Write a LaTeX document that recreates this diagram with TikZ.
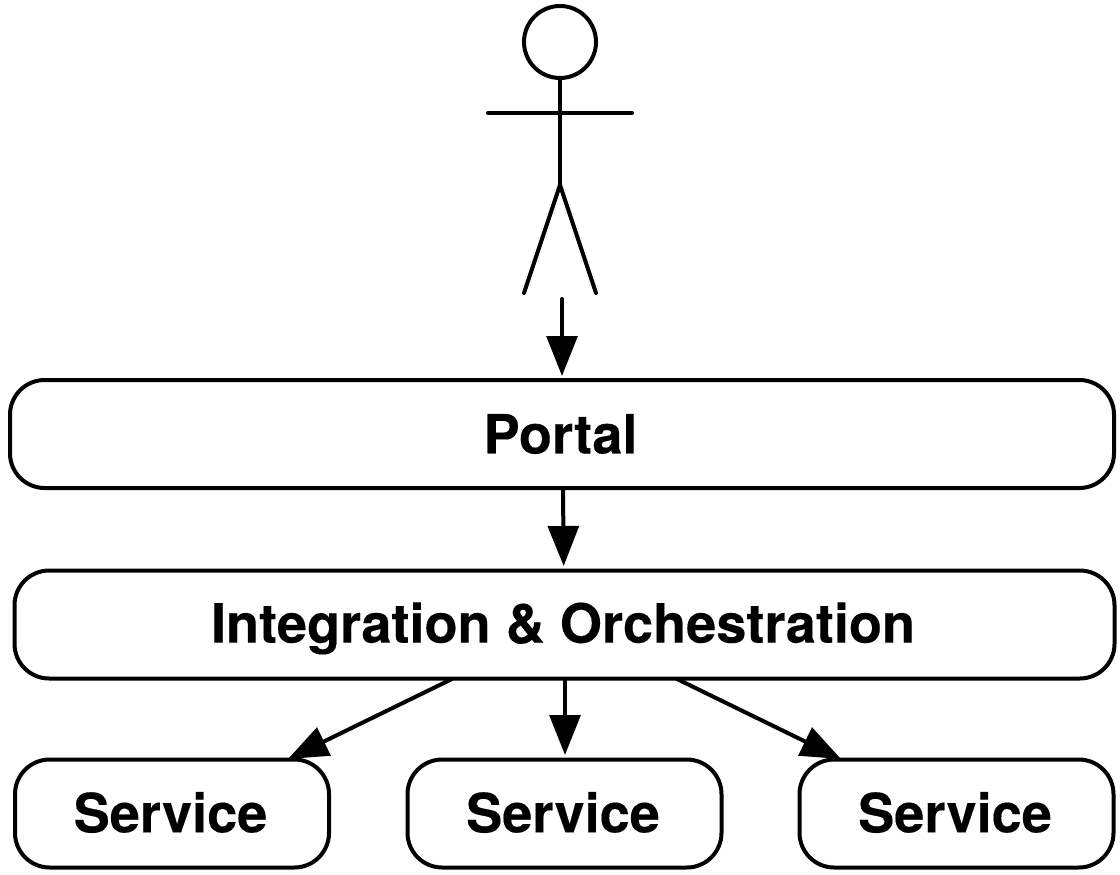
\documentclass[tikz,border=0pt]{standalone}
\usepackage{fontspec}
\setmainfont{TeX Gyre Heros}[BoldFeatures={FakeBold=0.25}]
\usetikzlibrary{arrows.meta,calc}
\newcommand\boxlabel[1]{#1\hspace*{2.2pt}}
\tikzset{
  px/.style={x=0.75pt,y=-0.75pt},
  box/.style={draw=black,line width=3pt,rounded corners=26pt,fill=white,inner sep=0pt,font=\fontsize{40.6pt}{44pt}\selectfont\bfseries,text=black},
  conn/.style={draw=black,line width=3pt,line cap=round,-{Triangle[length=30pt,width=23pt]}},
  fig/.style={draw=black,line width=3pt,line cap=round}
}
\begin{document}
\begin{tikzpicture}[px]
\useasboundingbox (0,0) rectangle (1120,874);
\node[box,minimum width=828pt,minimum height=81pt] (portal) at (562,434) {\boxlabel{Portal}};
\node[box,minimum width=825pt,minimum height=81pt,text depth=3pt] (integ) at (564.5,624.5) {\boxlabel{Integration \& Orchestration}};
\node[box,minimum width=235.5pt,minimum height=81pt,text depth=2pt] (s1) at (172,813.5) {\boxlabel{Service}};
\node[box,minimum width=235.5pt,minimum height=81pt,text depth=2pt] (s2) at (564.5,813.5) {\boxlabel{Service}};
\node[box,minimum width=235.5pt,minimum height=81pt,text depth=2pt] (s3) at (956.5,813.5) {\boxlabel{Service}};
\node[draw=black,line width=3pt,circle,minimum size=54pt,inner sep=0pt] (head) at (560,42) {};
\coordinate (hip) at (560,185);
\coordinate (armL) at (488,113);
\coordinate (armR) at (632,113);
\coordinate (footL) at (524,293);
\coordinate (footR) at (596,293);
\draw[fig] (head.south) -- (hip);
\draw[fig] (armL) -- (armR);
\draw[fig] (footL) -- (hip) -- (footR);
\coordinate (start) at (562,299);
\coordinate (pEnd) at (562,376);
\coordinate (p1) at (563,489);
\coordinate (p2) at (563.7,566);
\coordinate (i0) at (452,679);
\coordinate (t0) at (288,759);
\coordinate (i1) at (565,679);
\coordinate (t1) at (565,755);
\coordinate (i2) at (677,679);
\coordinate (t2) at (841,759);
\draw[conn] (start) -- (pEnd);
\draw[conn] (p1) -- (p2);
\draw[conn] (i0) -- (t0);
\draw[conn] (i1) -- (t1);
\draw[conn] (i2) -- (t2);
\end{tikzpicture}
\end{document}
